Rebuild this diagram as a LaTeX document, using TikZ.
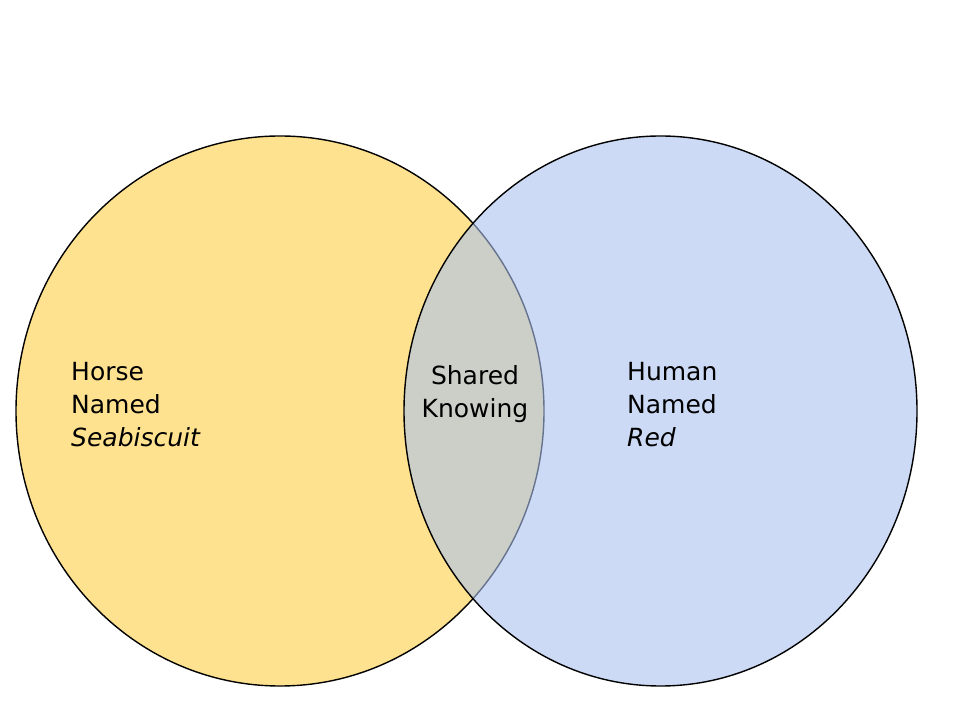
\documentclass[tikz,border=0pt]{standalone}
\usepackage{fontspec}
\setmainfont{DejaVu Sans}
\usetikzlibrary{shapes.geometric}
\definecolor{vennyellow}{RGB}{255,226,143}
\definecolor{vennblue}{RGB}{170,193,238}

\begin{document}
\begin{tikzpicture}[
  x=1pt,y=1pt,
  every node/.style={font=\fontsize{25}{33}\selectfont,align=left,inner sep=0pt},
  set/.style={ellipse,draw=black,line width=1.4pt,inner sep=0pt},
  label/.style={anchor=west}
]
\useasboundingbox (0,0) rectangle (960,720);
\node[set,fill=vennyellow,minimum width=528,minimum height=550] (horse) at (280,309) {};
\node[set,fill=vennblue,fill opacity=0.6,draw opacity=1,minimum width=513,minimum height=550] (human) at (660.5,309) {};

\node[label] (horsetext) at (71,315) {Horse\\Named\\\textit{Seabiscuit}};
\node[align=center] (sharedtext) at (475,326) {Shared\\Knowing};
\node[label] (humantext) at (627,315) {Human\\Named\\\textit{Red}};
\end{tikzpicture}
\end{document}
